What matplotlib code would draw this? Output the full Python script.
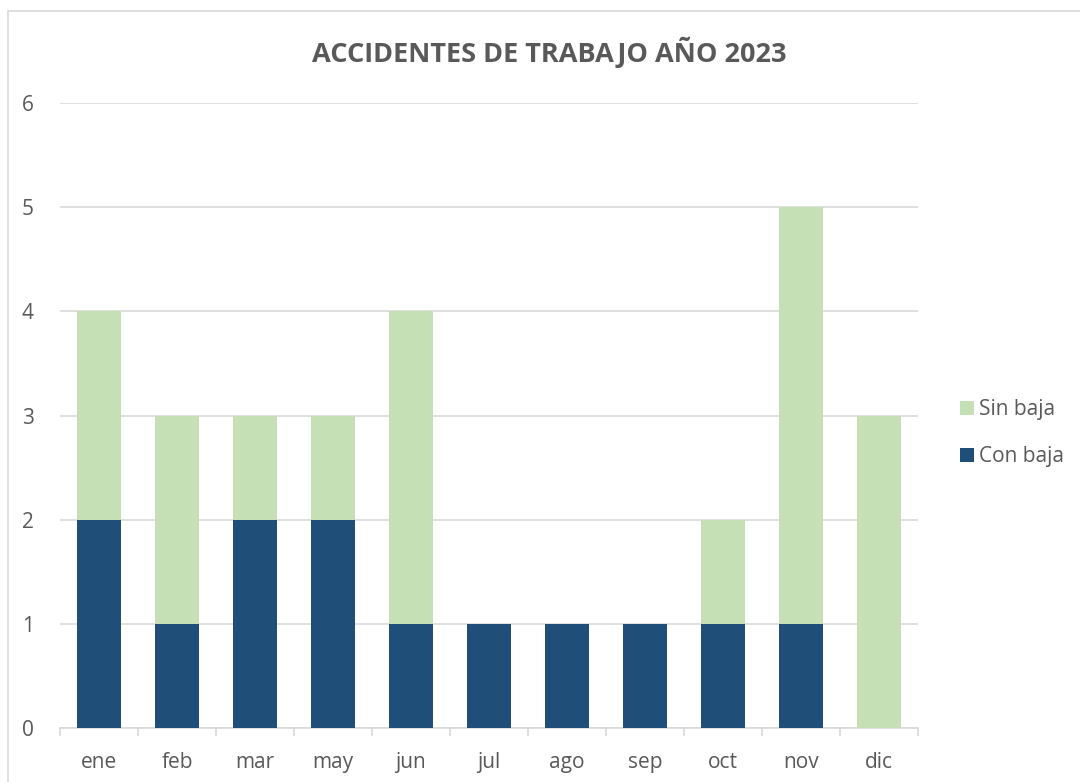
import matplotlib
matplotlib.use("Agg")
import matplotlib.pyplot as plt
import numpy as np
from matplotlib.patches import Rectangle

months = ["ene", "feb", "mar", "may", "jun", "jul", "ago", "sep", "oct", "nov", "dic"]
con_baja = [2, 1, 2, 2, 1, 1, 1, 1, 1, 1, 0]
sin_baja = [2, 2, 1, 1, 3, 0, 0, 0, 1, 4, 3]

plt.rcParams['font.family'] = ['Open Sans', 'DejaVu Sans']
text_color = '#595959'
grid_color = '#D9D9D9'

fig = plt.figure(figsize=(10.8, 7.82), dpi=100)
ax = fig.add_axes([60 / 1080, 54 / 782, 858 / 1080, 625 / 782])

# outer chart border
fig.patches.append(Rectangle((8 / 1080, -0.01), 1.05, 771 / 782 + 0.01,
                             transform=fig.transFigure, fill=False,
                             edgecolor=grid_color, linewidth=1.2))

x = np.arange(len(months))
w = 0.565
ax.bar(x, con_baja, w, color='#1F4E79', label='Con baja', zorder=3)
ax.bar(x, sin_baja, w, bottom=con_baja, color='#C5E0B4', label='Sin baja', zorder=3)

ax.set_xlim(-0.5, len(months) - 0.5)
ax.set_ylim(0, 6)
ax.set_yticks(range(7))
ax.yaxis.grid(True, color=grid_color, linewidth=1.2, zorder=0)
ax.set_axisbelow(True)

ax.set_xticks(x)
ax.set_xticklabels(months)
ax.tick_params(axis='x', length=0, pad=17, labelsize=15, labelcolor=text_color)
ax.tick_params(axis='y', length=0, pad=19, labelsize=15, labelcolor=text_color)
ax.set_xticks(np.arange(-0.5, len(months)), minor=True)
ax.tick_params(axis='x', which='minor', length=6, color=grid_color, width=1.2)

for s in ['top', 'right', 'left']:
    ax.spines[s].set_visible(False)
ax.spines['bottom'].set_color(grid_color)
ax.spines['bottom'].set_linewidth(1.2)

handles, labels = ax.get_legend_handles_labels()
fig.legend(handles[::-1], labels[::-1], loc='center left', bbox_to_anchor=(952 / 1080, 1 - 433 / 782),
           frameon=False, fontsize=15, labelcolor=text_color, handlelength=0.65, handleheight=0.65,
           handletextpad=0.25, labelspacing=1.25, borderaxespad=0)

fig.text(549 / 1080, 1 - 52 / 782, "ACCIDENTES DE TRABAJO AÑO 2023", ha='center', va='center',
         fontsize=19.5, fontweight='bold', color=text_color)

fig.savefig("out.png", dpi=100)
